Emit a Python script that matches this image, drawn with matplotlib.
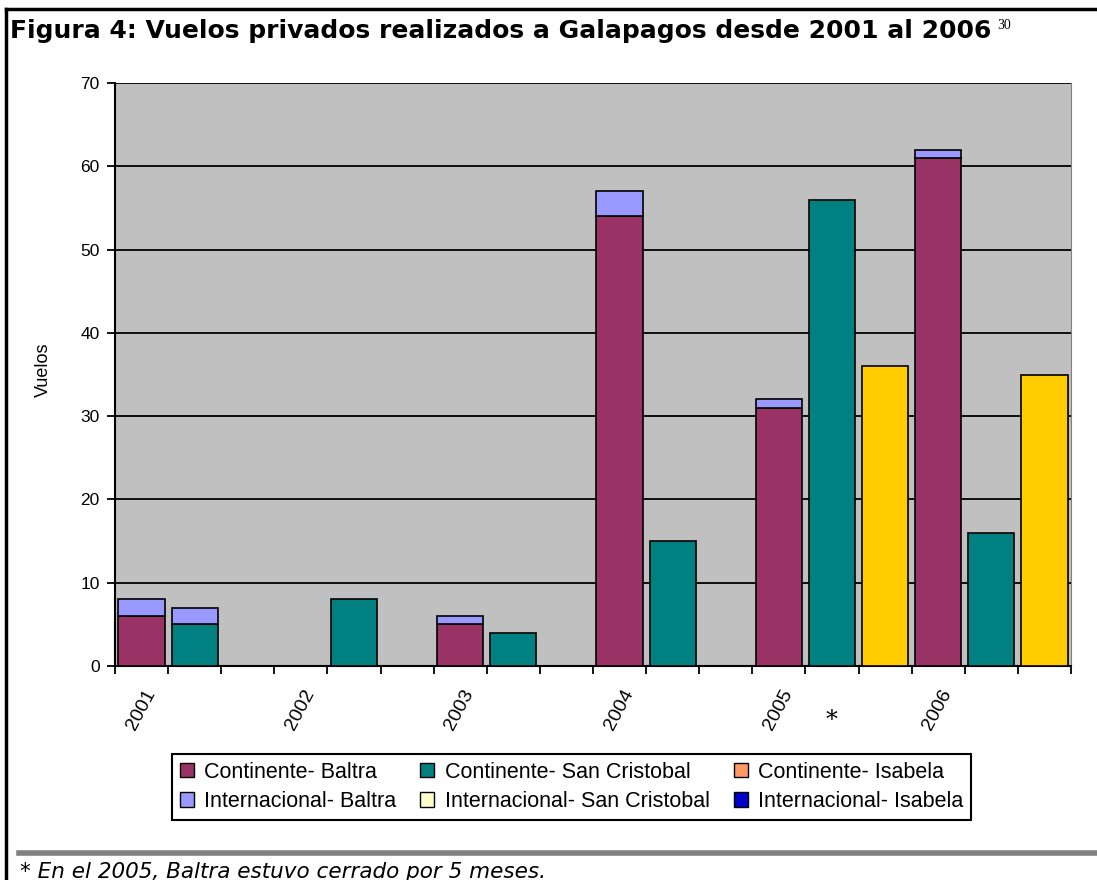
import matplotlib
matplotlib.use('Agg')
import matplotlib.pyplot as plt
from matplotlib.patches import Patch
from matplotlib.lines import Line2D

# ---- data ----
years = ['2001', '2002', '2003', '2004', '2005', '2006']
cont_baltra = [6, 0, 5, 54, 31, 61]
intl_baltra = [2, 0, 1, 3, 1, 1]
cont_sancristobal = [5, 8, 4, 15, 56, 16]
intl_sancristobal = [2, 0, 0, 0, 0, 0]
cont_isabela = [0, 0, 0, 0, 36, 35]

legend_labels = ['Continente- Baltra', 'Internacional- Baltra',
                 'Continente- San Cristobal', 'Internacional- San Cristobal',
                 'Continente- Isabela', 'Internacional- Isabela']

MAG = '#993366'
LAV = '#9999FF'
TEAL = '#008080'
YEL = '#FFCC00'
legend_colors = [MAG, LAV, TEAL, '#FFFFCC', '#FF9966', '#0000CC']

W, H = 1097, 880
def fx(px):
    return px / W
def fy(py):
    return 1 - py / H

AR = 'Liberation Sans'

fig = plt.figure(figsize=(W / 100, H / 100), dpi=100)
ax = fig.add_axes([fx(115), fy(666), fx(1071) - fx(115), fy(83) - fy(666)])
ax.set_facecolor('#C0C0C0')

# 3 slots per year: Baltra, San Cristobal, Isabela
n_slots = 3 * len(years)
base = [3 * i for i in range(len(years))]
bw = 0.87

def draw(slot, vals, bottoms, color):
    xs = [b + slot + 0.5 for b, v in zip(base, vals) if v > 0]
    hs = [v for v in vals if v > 0]
    bs = [bt for bt, v in zip(bottoms, vals) if v > 0]
    ax.bar(xs, hs, bw, bottom=bs, color=color, edgecolor='black',
           linewidth=1.2, zorder=3)

zeros = [0] * len(years)
draw(0, cont_baltra, zeros, MAG)
draw(0, intl_baltra, cont_baltra, LAV)
draw(1, cont_sancristobal, zeros, TEAL)
draw(1, intl_sancristobal, cont_sancristobal, LAV)
draw(2, cont_isabela, zeros, YEL)

ax.set_xlim(0, n_slots)
ax.set_ylim(0, 70)
ax.set_yticks(range(0, 71, 10))
ax.set_xticks(range(n_slots + 1))
ax.set_xticklabels([])
ax.yaxis.grid(True, color='black', linewidth=1.3, zorder=1)
ax.set_axisbelow(True)
ax.tick_params(axis='x', direction='out', length=6, width=1.3)
ax.tick_params(axis='y', direction='out', length=6, width=1.3, pad=5,
               labelsize=12.5)
for t in ax.get_yticklabels():
    t.set_fontfamily(AR)
for s in ['left', 'bottom']:
    ax.spines[s].set_linewidth(1.5)
ax.spines['top'].set_visible(False)
ax.spines['right'].set_color('#808080')

# year labels at first slot of each group
for b, y in zip(base, years):
    ax.annotate(y, xy=(b + 0.5, 0), xycoords=('data', 'axes fraction'),
                xytext=(2, -20), textcoords='offset pixels',
                rotation=62, rotation_mode='anchor', ha='right', va='top',
                fontsize=14, family=AR)

ax.annotate('*', xy=(13.5, 0), xycoords=('data', 'axes fraction'),
            xytext=(0, -54), textcoords='offset pixels',
            ha='center', va='center', fontsize=17, family='DejaVu Serif')

fig.text(fx(43), fy(370), 'Vuelos', rotation=90, ha='center', va='center',
         fontsize=13, family=AR)

handles = [Patch(facecolor=c, edgecolor='black', linewidth=1.0)
           for c in legend_colors]
leg = fig.legend(handles, legend_labels, ncol=3, loc='upper left',
                 bbox_to_anchor=(fx(172), fy(754)), frameon=True,
                 fancybox=False, edgecolor='black', framealpha=1,
                 prop={'family': AR, 'size': 15.5},
                 handlelength=0.65, handleheight=0.65, handletextpad=0.5,
                 columnspacing=1.1, borderpad=0.35, labelspacing=0.4,
                 borderaxespad=0)
leg.get_frame().set_linewidth(1.5)

title = fig.text(fx(10), fy(31),
                 'Figura 4: Vuelos privados realizados a Galapagos desde 2001 al 2006',
                 fontsize=18, fontweight='bold', family='DejaVu Sans',
                 ha='left', va='center')
r = fig.canvas.get_renderer()
bb = title.get_window_extent(r)
fig.text((bb.x1 + 6) / W, bb.y1 / H, '30', fontsize=10,
         family='Liberation Serif', ha='left', va='top')

# page frame lines
fig.add_artist(Line2D([fx(6), 1], [fy(9), fy(9)], color='black', lw=2.5))
fig.add_artist(Line2D([fx(6), fx(6)], [fy(9), fy(880)], color='black', lw=2.5))
fig.add_artist(Line2D([fx(19), 1], [fy(853), fy(853)], color='#808080', lw=4))

fig.text(fx(20), fy(872), '* En el 2005, Baltra estuvo cerrado por 5 meses.',
         style='italic', fontsize=15.5, family='DejaVu Sans', va='center')

fig.savefig('out.png', dpi=100)
